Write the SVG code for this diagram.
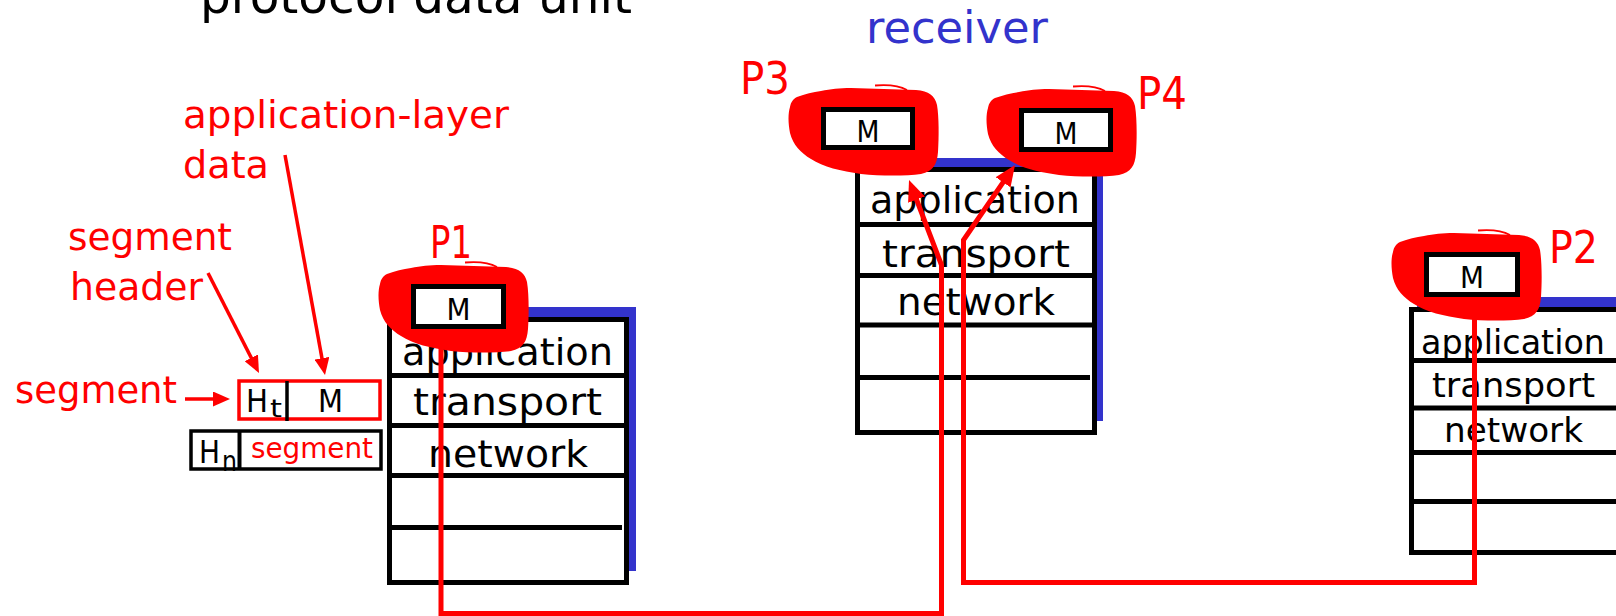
<svg xmlns="http://www.w3.org/2000/svg" width="1616" height="616" viewBox="0 0 1616 616">
<style>
  text { font-family: "DejaVu Sans", sans-serif; }
  .red { fill: #ff0000; }
  .blk { fill: #000000; }
  .layer { fill: #000000; font-size: 38px; }
  .layer-s { fill: #000000; font-size: 33px; }
  .shadow { fill: #3333cc; }
  .stack { fill: #ffffff; stroke: #000000; stroke-width: 5; }
  .row { stroke: #000000; stroke-width: 5; }
  .conn { fill: none; stroke: #ff0000; stroke-width: 5; }
  .ptr { fill: none; stroke: #ff0000; stroke-width: 3.5; }
  .blob { fill: #ff0000; }
  .tail { fill: none; stroke: #ff0000; stroke-width: 1.8; }
  .mbox { fill: #ffffff; stroke: #000000; stroke-width: 5; }
  .m { font-size: 30px; fill: #000000; text-anchor: middle; }
  .plabel { font-size: 45px; fill: #ff0000; }
  .note { font-size: 37px; fill: #ff0000; }
</style>
<defs>
  <path id="blobShape" d="M-24,-10 C-16,-13 -8,-15 0,-16 C10,-18 18,-19 30,-19 L95,-17 C108,-16 114,-11 116,-2 C118,10 118,30 117,45 C116,58 112,64 100,67 C85,69 60,69 40,67 C20,64 2,60 -10,52 C-20,46 -28,38 -31,26 C-33,16 -33,6 -31,0 C-30,-5 -28,-8 -24,-10 Z"/>
  <marker id="ahThin" markerUnits="userSpaceOnUse" viewBox="0 0 17 15" markerWidth="17" markerHeight="15" refX="8" refY="7.5" orient="auto">
    <path d="M0,0 L17,7.5 L0,15 Z" fill="#ff0000"/>
  </marker>
  <marker id="ahThick" markerUnits="userSpaceOnUse" viewBox="0 0 21 18" markerWidth="21" markerHeight="18" refX="9" refY="9" orient="auto">
    <path d="M0,0 L21,9 L0,18 Z" fill="#ff0000"/>
  </marker>
</defs>

<rect x="0" y="0" width="1616" height="616" fill="#ffffff"/>

<!-- title (cut off at top, as in the reference) -->
<text class="blk" x="200" y="13" font-size="48" textLength="432" lengthAdjust="spacingAndGlyphs">protocol data unit</text>

<!-- receiver label -->
<text x="866" y="43" font-size="44" fill="#3333cc" textLength="182" lengthAdjust="spacingAndGlyphs">receiver</text>

<!-- annotations -->
<g id="annotations">
  <text class="note" x="183" y="128" textLength="326" lengthAdjust="spacingAndGlyphs">application-layer</text>
  <text class="note" x="183" y="178" textLength="86" lengthAdjust="spacingAndGlyphs">data</text>
  <text class="note" x="68" y="250" textLength="164" lengthAdjust="spacingAndGlyphs">segment</text>
  <text class="note" x="70" y="300" textLength="133" lengthAdjust="spacingAndGlyphs">header</text>
  <text class="note" x="15" y="403" textLength="162" lengthAdjust="spacingAndGlyphs">segment</text>
</g>

<!-- segment / datagram boxes -->
<g id="segment-box">
  <rect x="239" y="381" width="141" height="38" fill="#ffffff" stroke="#ff0000" stroke-width="3.5"/>
  <line x1="287" y1="381" x2="287" y2="421" stroke="#000000" stroke-width="3.5"/>
  <text class="blk" x="246" y="412" font-size="32" textLength="22" lengthAdjust="spacingAndGlyphs">H</text>
  <text class="blk" x="270" y="417" font-size="24" textLength="12" lengthAdjust="spacingAndGlyphs">t</text>
  <text class="blk" x="318" y="412" font-size="32" textLength="25" lengthAdjust="spacingAndGlyphs">M</text>
</g>
<g id="datagram-box">
  <rect x="191" y="431" width="190" height="38" fill="#ffffff" stroke="#000000" stroke-width="3.5"/>
  <line x1="239.5" y1="431" x2="239.5" y2="469" stroke="#000000" stroke-width="4"/>
  <text class="blk" x="199" y="463" font-size="32" textLength="21" lengthAdjust="spacingAndGlyphs">H</text>
  <text class="blk" x="222" y="471" font-size="28" textLength="15" lengthAdjust="spacingAndGlyphs">n</text>
  <text class="red" x="251" y="458" font-size="28" textLength="122" lengthAdjust="spacingAndGlyphs">segment</text>
</g>

<!-- host stacks -->
<g id="stack-left">
  <rect class="shadow" x="395" y="307" width="241" height="264"/>
  <rect class="stack" x="389.5" y="319.5" width="237" height="263"/>
  <line class="row" x1="389.5" y1="375.5" x2="626.5" y2="375.5"/>
  <line class="row" x1="389.5" y1="425.5" x2="626.5" y2="425.5"/>
  <line class="row" x1="389.5" y1="475.5" x2="626.5" y2="475.5"/>
  <line class="row" x1="389.5" y1="527.5" x2="622" y2="527.5"/>
  <text class="layer" x="402" y="365" textLength="211" lengthAdjust="spacingAndGlyphs">application</text>
  <text class="layer" x="413" y="415" textLength="189" lengthAdjust="spacingAndGlyphs">transport</text>
  <text class="layer" x="428" y="467" textLength="160" lengthAdjust="spacingAndGlyphs">network</text>
</g>

<g id="stack-receiver">
  <rect class="shadow" x="863" y="158" width="240" height="263"/>
  <rect class="stack" x="857.5" y="169.5" width="237" height="263"/>
  <line class="row" x1="857.5" y1="224.5" x2="1094.5" y2="224.5"/>
  <line class="row" x1="857.5" y1="275.5" x2="1094.5" y2="275.5"/>
  <line class="row" x1="857.5" y1="325" x2="1094.5" y2="325"/>
  <line class="row" x1="857.5" y1="377.5" x2="1090" y2="377.5"/>
  <text class="layer" x="870" y="213" textLength="210" lengthAdjust="spacingAndGlyphs">application</text>
  <text class="layer" x="882" y="267" textLength="188" lengthAdjust="spacingAndGlyphs">transport</text>
  <text class="layer" x="897" y="315" textLength="158" lengthAdjust="spacingAndGlyphs">network</text>
</g>

<g id="stack-right">
  <rect class="shadow" x="1417" y="297" width="240" height="244"/>
  <rect class="stack" x="1411.5" y="309.5" width="240" height="243"/>
  <line class="row" x1="1411.5" y1="360.5" x2="1651.5" y2="360.5"/>
  <line class="row" x1="1411.5" y1="408" x2="1651.5" y2="408"/>
  <line class="row" x1="1411.5" y1="452.5" x2="1651.5" y2="452.5"/>
  <line class="row" x1="1411.5" y1="501.5" x2="1651.5" y2="501.5"/>
  <text class="layer-s" x="1421" y="354" textLength="184" lengthAdjust="spacingAndGlyphs">application</text>
  <text class="layer-s" x="1432" y="397" textLength="163" lengthAdjust="spacingAndGlyphs">transport</text>
  <text class="layer-s" x="1444" y="442" textLength="139" lengthAdjust="spacingAndGlyphs">network</text>
</g>

<!-- connectors -->
<g id="connectors">
  <path class="conn" d="M441,345 L441,613.5 L941.5,613.5 L941.5,265 L913.3,191.2" marker-end="url(#ahThick)"/>
  <path class="conn" d="M1474.5,318 L1474.5,582.5 L963.5,582.5 L963.5,240 L1008.2,174.9" marker-end="url(#ahThick)"/>
  <path class="ptr" d="M285,155 L323.4,366.1" marker-end="url(#ahThin)"/>
  <path class="ptr" d="M208,273 L254.9,365" marker-end="url(#ahThin)"/>
  <path class="ptr" d="M185,399 L221,399" marker-end="url(#ahThin)"/>
</g>

<!-- processes (sockets) -->
<g id="P1">
  <text class="plabel" x="430" y="258" textLength="42" lengthAdjust="spacingAndGlyphs">P1</text>
  <g transform="translate(411,284)">
    <use href="#blobShape" class="blob"/>
    <path class="tail" d="M54,-21.5 C66,-22.5 78,-21.5 86,-17"/>
    <rect class="mbox" x="2.5" y="2.5" width="90" height="40"/>
    <text class="m" x="47.5" y="36" textLength="24" lengthAdjust="spacingAndGlyphs">M</text>
  </g>
</g>

<g id="P2">
  <text class="plabel" x="1549" y="263" textLength="49" lengthAdjust="spacingAndGlyphs">P2</text>
  <g transform="translate(1424,252)">
    <use href="#blobShape" class="blob"/>
    <path class="tail" d="M54,-21.5 C66,-22.5 78,-21.5 86,-17"/>
    <rect class="mbox" x="2.5" y="2.5" width="91" height="40"/>
    <text class="m" x="48" y="36" textLength="24" lengthAdjust="spacingAndGlyphs">M</text>
  </g>
</g>

<g id="P3">
  <text class="plabel" x="740" y="94" textLength="50" lengthAdjust="spacingAndGlyphs">P3</text>
  <g transform="translate(821,107)">
    <use href="#blobShape" class="blob"/>
    <path class="tail" d="M54,-21.5 C66,-22.5 78,-21.5 86,-17"/>
    <rect class="mbox" x="2.5" y="2.5" width="89" height="38"/>
    <text class="m" x="47" y="35" textLength="23" lengthAdjust="spacingAndGlyphs">M</text>
  </g>
</g>

<g id="P4">
  <text class="plabel" x="1137" y="109" textLength="50" lengthAdjust="spacingAndGlyphs">P4</text>
  <g transform="translate(1019,108)">
    <use href="#blobShape" class="blob"/>
    <path class="tail" d="M54,-21.5 C66,-22.5 78,-21.5 86,-17"/>
    <rect class="mbox" x="2.5" y="2.5" width="89" height="39"/>
    <text class="m" x="47" y="36" textLength="23" lengthAdjust="spacingAndGlyphs">M</text>
  </g>
</g>
</svg>
